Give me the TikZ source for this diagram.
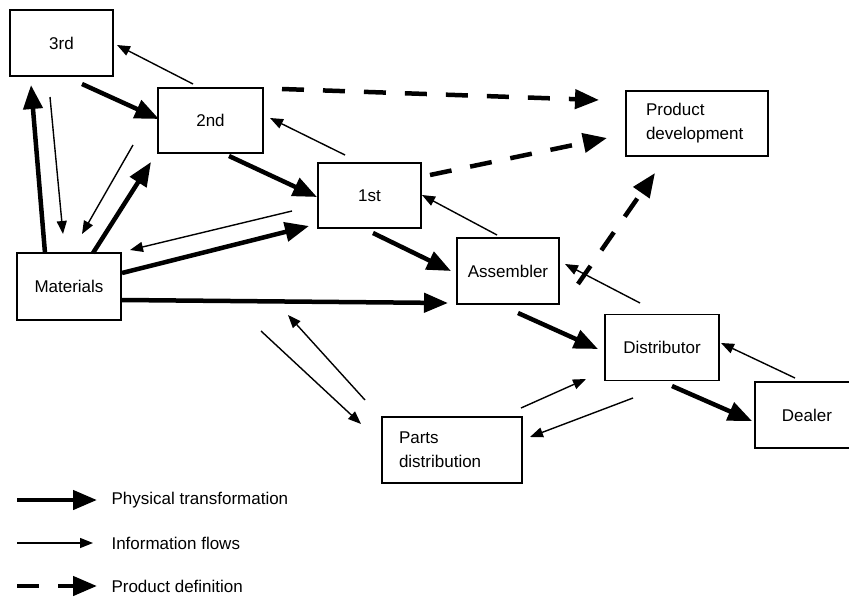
\documentclass[tikz,border=0pt]{standalone}
\usepackage{fontspec}
\setmainfont{Liberation Sans}
\usetikzlibrary{arrows.meta}
\begin{document}
\begin{tikzpicture}[x=1pt,y=-1pt,
  box/.style={draw, line width=1.8pt, inner sep=0pt,
    font=\fontsize{17}{24}\selectfont},
  twoline/.style={box, align=left, inner xsep=#1, inner ysep=0pt},
  phys/.style={line width=4.5pt, -{Triangle[length=24pt,width=19pt]}},
  info/.style={line width=1.4pt, -{Triangle[length=13pt,width=10pt]}},
  pdef/.style={line width=4.5pt, dash pattern=on 22pt off 19pt,
    -{Triangle[length=24pt,width=19pt]}},
  legtext/.style={anchor=west, font=\fontsize{17}{20}\selectfont}]
\clip (0,0) rectangle (849,597);

% ---- stages of the supply chain ----
\node[box, minimum width=103pt, minimum height=66pt] (third) at (61.5,43) {3rd};
\node[box, minimum width=105pt, minimum height=65pt] (second) at (210.5,120.5) {2nd};
\node[box, minimum width=103pt, minimum height=65pt] (first) at (369.5,195.5) {1st};
\node[twoline=20pt, text width=102pt, minimum height=65pt] (pdev) at (697,123.5) {Product\\development};
\node[box, minimum width=104pt, minimum height=67pt] (mat) at (69,286.5) {Materials};
\node[box, minimum width=102pt, minimum height=66pt] (asm) at (508,271) {Assembler};
\node[box, minimum width=114pt, minimum height=66pt] (dist) at (662,347.5) {Distributor};
\node[box, minimum width=104pt, minimum height=66pt] (dealer) at (807,415) {Dealer};
\node[twoline=17pt, text width=106pt, minimum height=66pt] (parts) at (452,450) {Parts\\distribution};

% ---- arrow end points ----
\coordinate (p1a) at (82,84);   \coordinate (p1b) at (159,119);
\coordinate (p2a) at (229,156); \coordinate (p2b) at (317,197);
\coordinate (p3a) at (373,233); \coordinate (p3b) at (451,271);
\coordinate (p4a) at (45,253);  \coordinate (p4b) at (31,85);
\coordinate (p5a) at (93,253);  \coordinate (p5b) at (151,162);
\coordinate (p6a) at (122,273); \coordinate (p6b) at (309,226);
\coordinate (p7a) at (122,300); \coordinate (p7b) at (448,303);
\coordinate (p8a) at (518,313); \coordinate (p8b) at (598,349);
\coordinate (p9a) at (672,386); \coordinate (p9b) at (752,421);

\coordinate (i1a) at (193,84);  \coordinate (i1b) at (117,45);
\coordinate (i2a) at (345,155); \coordinate (i2b) at (270,118);
\coordinate (i3a) at (497,235); \coordinate (i3b) at (422,195);
\coordinate (i4a) at (640,303); \coordinate (i4b) at (565,264);
\coordinate (i5a) at (795,378); \coordinate (i5b) at (721,343);
\coordinate (i6a) at (50,97);   \coordinate (i6b) at (63,234);
\coordinate (i7a) at (133,145); \coordinate (i7b) at (82,234);
\coordinate (i8a) at (292,211); \coordinate (i8b) at (130,250);
\coordinate (i9a) at (365,400); \coordinate (i9b) at (288,315);
\coordinate (i10a) at (261,331); \coordinate (i10b) at (361,424);
\coordinate (i11a) at (521,408); \coordinate (i11b) at (586,379);
\coordinate (i12a) at (633,398); \coordinate (i12b) at (530,437);

\coordinate (d1a) at (282,89);  \coordinate (d1b) at (599,100);
\coordinate (d2a) at (430,175); \coordinate (d2b) at (607,138);
\coordinate (d3a) at (578,284); \coordinate (d3b) at (655,173);

% ---- physical transformation ----
\foreach \k in {1,...,9} \draw[phys] (p\k a) -- (p\k b);
% ---- information flows ----
\foreach \k in {1,...,12} \draw[info] (i\k a) -- (i\k b);
% ---- product definition ----
\foreach \k in {1,2,3} \draw[pdef] (d\k a) -- (d\k b);

% ---- key ----
\coordinate (k1a) at (17,500); \coordinate (k1b) at (97,500);
\coordinate (k2a) at (17,543); \coordinate (k2b) at (93,543);
\coordinate (k3a) at (17,586); \coordinate (k3b) at (97,586);
\draw[phys] (k1a) -- (k1b);
\draw[info] (k2a) -- (k2b);
\draw[pdef] (k3a) -- (k3b);
\node[legtext] (l1) at (108,500) {Physical transformation};
\node[legtext] (l2) at (108,543) {Information flows};
\node[legtext] (l3) at (108,586) {Product definition};
\end{tikzpicture}
\end{document}
